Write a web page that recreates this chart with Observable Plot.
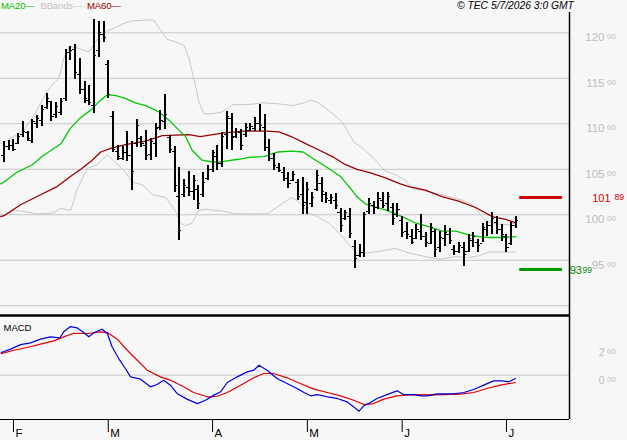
<!DOCTYPE html>
<html><head><meta charset="utf-8">
<script src="https://cdn.jsdelivr.net/npm/d3@7"></script>
<script src="https://cdn.jsdelivr.net/npm/@observablehq/plot@0.6"></script>
<style>
html,body{margin:0;padding:0;background:#f7f7f7;}
#wrap{position:relative;width:627px;height:440px;overflow:hidden;font-family:"Liberation Sans",Arial,sans-serif;}
#wrap svg{position:absolute;left:0;overflow:visible;background:transparent;}
.lg{position:absolute;top:0;font-size:9.6px;line-height:11px;white-space:nowrap;letter-spacing:-0.2px;}
.cp{position:absolute;top:0;left:457px;font-size:10.3px;line-height:11px;font-style:italic;white-space:nowrap;color:#000;}
</style></head><body>
<div id="wrap">
 <div class="lg" style="left:1px;color:#00c000">MA20—</div>
 <div class="lg" style="left:40.5px;color:#c4c4c4">BBands—</div>
 <div class="lg" style="left:87px;color:#990000">MA60—</div>
 <div class="cp">© TEC 5/7/2026 3:0 GMT</div>
</div>
<script>
// ---- data ----
const months = ["F","M","A","M","J","J"];
const monthIdx = [2,22,44,64,84,106];

const high = [108.0,108.2,108.3,108.9,110.2,109.1,110.5,110.9,112.0,113.3,
112.5,112.3,112.8,118.2,118.5,118.7,117.2,114.6,114.2,121.5,
121.2,121.2,117.0,111.4,107.6,107.5,109.2,108.0,110.5,108.6,
109.3,108.4,110.0,111.5,113.2,108.7,107.5,105.2,103.9,104.8,
104.3,103.2,104.6,105.4,107.1,107.6,109.0,111.3,111.1,109.5,
109.4,110.0,110.0,110.7,112.1,111.0,108.3,106.7,105.6,105.2,
104.7,104.8,103.9,104.1,103.6,102.4,104.9,104.1,102.5,102.2,
102.3,100.7,100.5,100.7,97.2,96.7,100.3,101.8,101.5,102.4,
102.5,102.5,101.2,101.2,99.8,99.1,98.4,98.9,100.0,98.1,
99.0,98.4,98.2,98.8,98.5,96.6,96.9,97.0,97.8,98.0,
97.3,99.0,99.3,100.2,99.8,98.9,97.8,99.1,99.8];
const low = [105.7,107.1,106.9,107.7,108.5,108.0,107.8,109.5,109.7,111.6,
110.2,110.6,110.9,112.5,117.0,114.9,113.2,112.2,112.0,111.1,
117.3,118.9,112.8,106.8,106.0,106.0,105.8,102.7,107.4,107.4,
106.0,106.0,106.3,109.3,109.4,106.7,102.5,97.2,101.9,102.0,
101.6,100.6,101.9,103.8,104.7,104.9,105.2,107.2,107.1,108.4,
107.1,108.5,109.1,109.1,109.1,106.9,105.9,104.9,104.6,103.7,
102.9,103.7,101.6,100.0,100.0,100.8,102.6,101.4,101.2,101.1,
100.6,98.0,99.4,97.4,94.1,95.3,95.3,100.0,100.0,100.6,
100.7,100.4,98.8,99.7,97.5,97.3,96.7,97.3,97.2,96.4,
96.7,95.3,95.9,96.5,96.7,95.5,95.7,94.3,95.9,96.4,
95.8,96.9,97.6,97.8,97.8,97.1,95.9,96.6,98.5];
const open = [106.5,107.5,107.6,107.8,108.8,109.0,108.2,110.0,110.4,111.8,
112.4,111.0,111.2,112.8,117.8,118.2,115.4,113.8,112.6,112.0,
118.0,119.8,116.5,110.8,107.0,106.2,106.8,106.5,107.8,108.4,
107.6,106.6,107.8,109.6,110.2,108.5,107.0,102.0,102.2,103.0,
102.6,102.8,102.2,104.0,105.0,106.4,105.6,108.8,110.6,108.6,
109.0,108.8,109.3,109.5,110.0,109.6,107.4,106.2,105.2,104.6,
104.0,103.8,103.6,102.2,101.4,101.2,102.8,103.4,102.2,101.6,
101.6,100.2,99.6,99.8,96.5,95.5,95.8,100.4,101.0,100.8,
101.6,101.2,100.8,100.0,99.4,98.2,97.6,97.4,98.2,97.6,
96.8,98.2,96.4,97.4,97.8,96.2,96.0,96.4,96.0,97.2,
97.0,96.8,98.4,98.8,99.2,98.4,97.6,96.8,98.8];
const close = [107.5,107.6,107.2,108.6,109.1,108.4,110.2,110.6,111.6,112.8,
110.8,111.9,112.4,117.8,118.0,115.6,113.8,112.8,112.3,117.5,
120.0,119.5,113.2,107.2,106.4,106.8,106.5,104.8,109.8,107.8,
106.5,108.0,109.5,110.4,111.0,107.2,103.2,98.3,103.2,102.6,
103.8,101.2,103.5,105.0,106.8,105.6,108.6,110.8,108.5,109.2,
107.6,109.6,109.7,110.0,109.8,107.4,106.2,105.4,104.9,104.0,
103.4,104.4,102.0,101.0,102.8,101.9,104.3,102.6,101.8,101.9,
101.0,98.8,100.2,97.9,95.2,95.9,100.0,101.2,100.8,101.8,
101.0,102.0,99.6,100.6,98.0,97.8,97.0,98.4,97.6,96.9,
98.6,96.2,97.5,98.0,97.2,96.0,96.6,95.6,97.4,97.6,
96.6,98.6,98.8,99.6,98.4,97.8,96.4,98.8,99.4];

// indicator lines: [bar index, value]
const ma20 = [[-0.7,103.4],[0,103.6],[2.8,104.7],[6,105.5],[8,106.4],[12,107.8],[14,109.5],[16,110.6],[18.3,111.5],[20.4,112.6],[21.8,113.2],[23.6,113.1],[25.6,112.8],[27.7,112.3],[29.9,112.0],[32.7,111.3],[34.8,110.4],[36.9,109.3],[38.3,108.6],[39.7,107.1],[41.8,106.0],[44,105.8],[46,105.8],[46.7,105.9],[49.5,106.1],[51.7,106.3],[54.8,106.4],[57.8,106.9],[60.6,107.0],[63.1,106.9],[65.4,106.1],[68.2,105.2],[71,104.2],[73.1,102.9],[74.4,102.0],[76.2,101.2],[78,100.9],[79.4,100.7],[81.2,100.4],[84,99.8],[86.8,99.1],[89.6,98.7],[92.4,98.2],[95.3,98.2],[98.1,97.8],[100.2,97.6],[102.3,97.5],[105.1,97.5],[108,97.6]];
const ma60 = [[-0.7,99.8],[0,99.9],[3.5,101.1],[7.7,102.2],[11.2,103.1],[14,104.2],[16.2,105.0],[18.6,106.0],[20.4,106.9],[22.5,107.3],[25.6,107.7],[29.9,108.1],[33.4,108.7],[39,108.8],[41.4,108.6],[44,108.8],[46.5,109.0],[50.6,109.2],[55.5,109.2],[58,109.1],[60.6,108.6],[63.3,107.9],[66.1,107.2],[69.6,106.3],[71.7,105.6],[74.5,105.0],[77.3,104.6],[80.2,104.1],[83.6,103.4],[85.4,103.1],[88.9,102.7],[92.4,102.0],[95.9,101.5],[99.5,100.8],[103,99.8],[105.8,99.5],[108,99.1]];
const bbUpper = [[-0.7,107.8],[0,108.0],[2.1,108.6],[4.2,109.3],[6.3,110.9],[8.1,112.6],[9.8,114.1],[11.6,115.0],[12.6,117.2],[13.7,118.4],[15.1,118.4],[17.9,117.9],[19.7,119.3],[21.1,120.1],[23.2,120.5],[25.6,121.1],[27,121.3],[29.9,121.4],[31.6,121.4],[33,120.3],[34.4,119.3],[36.2,119.0],[38,118.6],[39,117.2],[40.4,114.2],[41.1,112.4],[42.2,111.1],[44,111.1],[46,111.3],[48.3,112.1],[51.3,112.1],[54.8,112.3],[57.8,112.2],[60.8,112.0],[63.3,112.3],[64.8,112.6],[66.4,112.3],[68.9,111.3],[71.1,110.3],[72.4,109.3],[73.8,108.0],[75.9,107.2],[78,106.2],[79.4,105.4],[80.5,104.8],[82.6,104.4],[84.7,103.8],[86.1,102.9],[88.9,102.6],[92.4,102.2],[96.7,101.6],[98.8,101.1],[99.9,100.4],[101.6,99.3],[103.7,99.0],[106.5,98.9],[108,99.1]];
const bbLower = [[-0.7,99.9],[0,100.0],[2.1,100.5],[3.5,100.4],[7,100.1],[10.5,100.2],[11.9,100.7],[14.1,100.5],[15.5,102.9],[17.6,105.1],[19.7,105.5],[21.8,106.6],[23.6,105.7],[25.6,104.7],[27,103.6],[29.2,103.3],[31.3,102.2],[34.1,101.9],[36.2,100.4],[37.2,99.1],[38.3,98.8],[39.7,99.1],[41.1,100.5],[42.5,100.6],[46,100.4],[48.8,100.1],[53,100.1],[55.5,100.1],[57.8,100.9],[60.6,101.9],[62,101.5],[64.3,100.2],[66.1,99.8],[68.5,99.1],[71,97.8],[73.1,96.5],[74.8,95.6],[76.5,95.8],[79.4,96.0],[82.6,96.3],[85.4,95.8],[88.9,95.4],[91.7,95.1],[95.3,95.4],[98.1,95.3],[100.2,95.5],[102.3,95.9],[106.5,95.9],[108,95.9]];
const macdLine = [[-0.6,1.64],[1.4,1.88],[3.5,2.21],[5.6,2.33],[7.7,2.60],[9.8,2.77],[11.8,2.70],[12.6,3.13],[14,3.51],[15.4,3.42],[16.8,3.08],[17.9,2.77],[19,3.08],[20.7,3.32],[21.8,3.01],[22.8,2.05],[24.2,1.20],[25.6,0.48],[26.7,-0.12],[28.8,-0.29],[30.9,-0.84],[32.3,-0.67],[33.7,-0.36],[35.1,-0.72],[36.5,-1.32],[38.6,-1.73],[40.8,-2.05],[42.5,-1.81],[44.3,-1.44],[45.7,-1.20],[47.1,-0.53],[49.2,-0.12],[51.3,0.24],[52.7,0.36],[53.8,0.72],[55.5,0.36],[57.6,-0.24],[59.7,-0.60],[61.8,-0.96],[63.3,-1.25],[64.7,-1.49],[66.1,-1.40],[68.2,-1.56],[70.3,-1.68],[72.4,-1.93],[73.8,-2.29],[74.9,-2.60],[75.9,-2.21],[77.3,-1.97],[78.7,-1.68],[80.8,-1.40],[82.9,-1.13],[84.3,-1.40],[86.5,-1.40],[87.9,-1.49],[89.3,-1.49],[91.4,-1.35],[94.9,-1.35],[97,-1.25],[99.1,-1.03],[101.2,-0.72],[103.3,-0.41],[105.1,-0.41],[106.5,-0.48],[107.9,-0.24]];
const macdSignal = [[-0.6,1.56],[2.1,1.80],[4.9,2.00],[7.7,2.24],[10.5,2.48],[12.6,2.77],[14.7,3.03],[17.5,3.01],[20.4,3.13],[21.8,3.08],[23.9,2.60],[26,1.80],[28.1,1.08],[30.2,0.36],[33,-0.12],[35.1,-0.36],[37.9,-0.84],[40,-1.25],[42.9,-1.56],[45,-1.52],[47.1,-1.25],[49.9,-0.72],[52.7,-0.19],[54.8,0.12],[56.9,0.12],[59.7,-0.19],[62.5,-0.60],[65.4,-1.01],[68.2,-1.25],[71,-1.49],[73.8,-1.81],[75.9,-2.12],[78,-2.05],[80.1,-1.73],[82.9,-1.49],[85.8,-1.40],[90.7,-1.42],[96.3,-1.37],[99.1,-1.25],[101.9,-0.96],[104.7,-0.72],[107.9,-0.53]];

const levelHigh = 101.89, levelLow = 93.99;
const gridTicks = [90,95,100,105,110,115,120];
const labelTicks = [95,100,105,110,115,120];
const macdTicks = [0,2];

// ---- build ----
const bars = high.map((h,i) => ({i, high:h, low:low[i], open:open[i], close:close[i]}));
const last = bars.length - 1;
const X0 = -0.74, X1 = 119.3;
const font = '"Liberation Sans", Arial, sans-serif';
const lx = d => d[0], ly = d => d[1];
const GRAY = "#c8c8c8", LBL = "#bcbcbc";

const main = Plot.plot({
  width: 627, height: 315,
  marginLeft: 0, marginRight: 58, marginTop: 12, marginBottom: 0,
  x: {domain: [X0, X1], axis: null},
  y: {domain: [88.93, 122.23], axis: null},
  style: {background: "transparent", overflow: "visible", fontFamily: font},
  marks: [
    Plot.gridY(gridTicks, {stroke: GRAY, strokeOpacity: 1}),
    Plot.line(bbUpper, {x: lx, y: ly, stroke: GRAY, strokeWidth: 1}),
    Plot.line(bbLower, {x: lx, y: ly, stroke: GRAY, strokeWidth: 1}),
    Plot.line(ma60, {x: lx, y: ly, stroke: "#990000", strokeWidth: 1.3}),
    Plot.line(ma20, {x: lx, y: ly, stroke: "#00c800", strokeWidth: 1.3}),
    Plot.ruleX(bars, {x: "i", y1: "low", y2: "high", stroke: "#000", strokeWidth: 2, shapeRendering: "crispEdges"}),
    Plot.ruleY(bars, {y: "open", x1: d => d.i - 0.55, x2: "i", stroke: "#000", strokeWidth: 1, shapeRendering: "crispEdges"}),
    Plot.ruleY(bars, {y: "close", x1: "i", x2: d => d.i + 0.55, stroke: "#000", strokeWidth: 1, shapeRendering: "crispEdges"}),
    Plot.ruleY([levelHigh], {x1: last + 0.8, x2: last + 9.8, stroke: "#cc0000", strokeWidth: 3}),
    Plot.ruleY([levelLow], {x1: last + 0.8, x2: last + 9.8, stroke: "#009900", strokeWidth: 3}),
    Plot.text(labelTicks, {y: d => d, text: d => String(d), frameAnchor: "right", dx: 35, textAnchor: "end", lineAnchor: "top", dy: 0.5, fontSize: 11.5, fill: LBL}),
    Plot.text(labelTicks, {y: d => d, text: () => "00", frameAnchor: "right", dx: 37.5, textAnchor: "start", lineAnchor: "top", dy: 1, fontSize: 8, fill: LBL}),
    Plot.text([levelHigh], {y: d => d, text: d => String(Math.floor(d)), frameAnchor: "right", dx: 41, textAnchor: "end", lineAnchor: "middle", dy: 1, fontSize: 11, fill: "#cc0000"}),
    Plot.text([levelHigh], {y: d => d, text: d => String(Math.round((d % 1) * 100)), frameAnchor: "right", dx: 45, textAnchor: "start", lineAnchor: "top", dy: -4, fontSize: 8.5, fill: "#cc0000"}),
    Plot.text([levelLow], {y: d => d, text: d => String(Math.floor(d)), frameAnchor: "right", dx: 12.5, textAnchor: "end", lineAnchor: "middle", dy: 1, fontSize: 11, fill: "#008800"}),
    Plot.text([levelLow], {y: d => d, text: d => String(Math.round((d % 1) * 100)), frameAnchor: "right", dx: 13, textAnchor: "start", lineAnchor: "top", dy: -2.7, fontSize: 8.5, fill: "#008800"}),
    Plot.ruleX([X1], {stroke: "#000", strokeWidth: 1.5})
  ]
});
main.style.top = "0px";

const macd = Plot.plot({
  width: 627, height: 127,
  marginLeft: 0, marginRight: 58, marginTop: 2, marginBottom: 21,
  x: {domain: [X0, X1], axis: null},
  y: {domain: [-3.2, 4.31], axis: null},
  style: {background: "transparent", overflow: "visible", fontFamily: font},
  marks: [
    Plot.gridY([0], {stroke: GRAY, strokeOpacity: 1}),
    Plot.line(macdSignal, {x: lx, y: ly, stroke: "#dd0000", strokeWidth: 1.2}),
    Plot.line(macdLine, {x: lx, y: ly, stroke: "#0000dd", strokeWidth: 1.2}),
    Plot.text(macdTicks, {y: d => d, text: d => String(d), frameAnchor: "right", dx: 35, textAnchor: "end", lineAnchor: "top", dy: 1, fontSize: 10.5, fill: LBL}),
    Plot.text(macdTicks, {y: d => d, text: () => "00", frameAnchor: "right", dx: 37.5, textAnchor: "start", lineAnchor: "top", dy: 1, fontSize: 8, fill: LBL}),
    Plot.text(["MACD"], {frameAnchor: "top-left", dx: 3, dy: 9, lineAnchor: "top", textAnchor: "start", fontSize: 9.5, fill: "#000"}),
    Plot.ruleY([4.31], {stroke: "#000", strokeWidth: 2.5}),
    Plot.ruleY([-3.2], {stroke: "#000", strokeWidth: 1}),
    Plot.ruleX([X1], {stroke: "#000", strokeWidth: 1.5}),
    Plot.axisX(monthIdx, {tickSize: 13, tickFormat: () => "", stroke: "#000", strokeWidth: 1}),
    Plot.text(monthIdx, {x: d => d, text: (d, i) => months[i], frameAnchor: "bottom", dx: 2, dy: 9, lineAnchor: "top", textAnchor: "start", fontSize: 11.5, fill: "#000"})
  ]
});
macd.style.top = "313px";

const wrap = document.getElementById("wrap");
wrap.insertBefore(macd, wrap.firstChild);
wrap.insertBefore(main, wrap.firstChild);
</script>
</body></html>
